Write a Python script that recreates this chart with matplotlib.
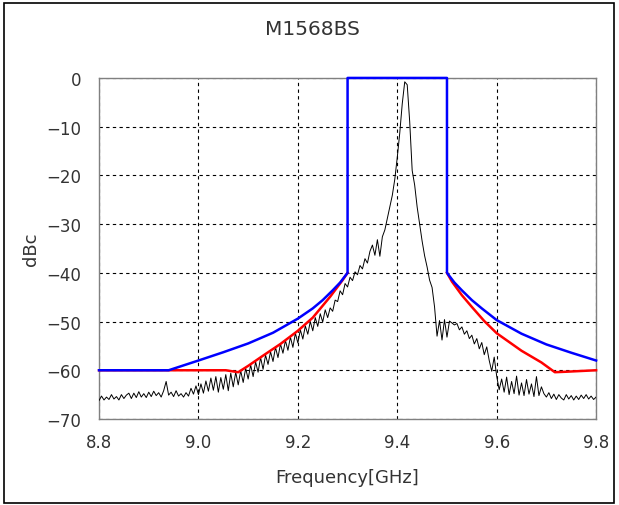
import numpy as np
import matplotlib
matplotlib.use("Agg")
import matplotlib.pyplot as plt
from matplotlib.patches import Rectangle

title = "M1568BS"
x_ticks = [8.8, 9.0, 9.2, 9.4, 9.6, 9.8]
x_tick_labels = ["8.8", "9.0", "9.2", "9.4", "9.6", "9.8"]
y_ticks = [0, -10, -20, -30, -40, -50, -60, -70]

# Blue mask
blue_f = [8.80, 8.94, 8.97, 9.00, 9.05, 9.10, 9.15, 9.20, 9.23, 9.25, 9.27, 9.285, 9.30, 9.30, 9.50, 9.50,
          9.515, 9.53, 9.55, 9.57, 9.60, 9.65, 9.70, 9.75, 9.80]
blue_db = [-60, -60, -59.0, -58.0, -56.3, -54.5, -52.3, -49.4, -47.3, -45.6, -43.6, -42.0, -40.0, 0, 0, -40.0,
           -42.0, -43.6, -45.6, -47.3, -49.7, -52.5, -54.7, -56.4, -58.0]

# Red mask (left and right skirts, no segment across the passband)
red_f = [8.80, 8.94, 9.055, 9.08, 9.10, 9.13, 9.165, 9.20, 9.23, 9.265, 9.29, 9.30,
         np.nan,
         9.50, 9.51, 9.53, 9.55, 9.575, 9.60, 9.65, 9.69, 9.717, 9.74, 9.80]
red_db = [-60, -60, -60, -60.4, -59.1, -57.0, -54.6, -51.9, -49.2, -44.9, -41.5, -40.0,
          np.nan,
          -40.0, -41.8, -44.6, -47.0, -49.9, -52.4, -56.0, -58.4, -60.4, -60.3, -60.0]

# Measured spectrum, 8.8 .. 9.8 GHz in 0.005 GHz steps
spec_db = [
    -66.2, -65.3, -66.1, -65.5, -66.0, -65.0, -65.9, -65.4, -66.1, -65.0,   # 8.800
    -65.8, -65.1, -64.7, -65.8, -64.7, -65.6, -64.4, -65.5, -64.8, -65.6,   # 8.850
    -64.5, -65.4, -64.3, -65.2, -64.6, -65.5, -64.2, -62.3, -65.1, -64.5,   # 8.900
    -65.4, -64.2, -65.3, -64.8, -65.5, -64.6, -65.3, -63.7, -64.9, -63.2,   # 8.950
    -65.0, -62.8, -64.7, -62.2, -64.3, -61.6, -64.1, -61.3, -64.5, -61.5,   # 9.000
    -63.9, -60.9, -64.2, -60.6, -63.4, -60.4, -63.0, -60.1, -62.5, -59.6,   # 9.050
    -61.8, -58.9, -61.3, -58.3, -60.4, -57.4, -59.8, -56.9, -58.8, -56.2,   # 9.100
    -58.2, -55.3, -57.4, -54.6, -56.5, -53.9, -55.9, -53.2, -55.3, -52.4,   # 9.150
    -54.4, -51.7, -53.6, -50.9, -52.6, -50.0, -51.9, -49.2, -51.0, -48.4,   # 9.200
    -50.1, -47.6, -49.2, -47.2, -47.9, -45.6, -45.9, -43.7, -44.5, -42.2,   # 9.250
    -42.9, -40.9, -41.6, -39.8, -40.4, -38.5, -39.2, -37.1, -38.0, -35.6,   # 9.300
    -34.3, -36.4, -33.2, -36.6, -32.6, -31.2, -28.8, -26.3, -24.1, -20.8,   # 9.350
    -16.3, -11.3, -5.3, -0.8, -1.4, -9.0, -19.0, -22.0, -26.5, -30.0,       # 9.400
    -33.5, -36.5, -38.8, -41.5, -43.0, -47.0, -53.0, -49.8, -53.8, -49.6,   # 9.450
    -53.2, -49.9, -50.3, -50.7, -50.4, -51.7, -51.1, -52.6, -51.9, -53.5,   # 9.500
    -52.8, -54.6, -53.5, -55.6, -54.3, -56.8, -55.2, -58.0, -60.2, -57.3,   # 9.550
    -61.2, -64.0, -61.8, -64.5, -61.4, -65.0, -62.3, -64.8, -61.2, -65.1,   # 9.600
    -62.6, -65.2, -61.9, -64.9, -62.8, -65.4, -61.3, -65.2, -63.4, -64.8,   # 9.650
    -65.5, -64.6, -65.8, -64.9, -66.0, -65.0, -65.7, -66.1, -65.0, -65.9,   # 9.700
    -65.2, -66.1, -65.3, -66.0, -65.1, -65.8, -65.0, -65.9, -65.3, -66.0,   # 9.750
    -65.5,                                                                   # 9.800
]
spec_f = np.linspace(8.8, 9.8, len(spec_db))

fig = plt.figure(figsize=(6.19, 5.06), dpi=100)
ax = fig.add_axes([0.160, 0.170, 0.803, 0.674])

ax.plot(spec_f, spec_db, color="black", lw=0.7, zorder=3)
ax.plot(red_f, red_db, color="#ff0000", lw=1.8, zorder=4, clip_on=False)
ax.plot(blue_f, blue_db, color="#0000ff", lw=1.8, zorder=5, clip_on=False)

ax.set_xlim(8.8, 9.8)
ax.set_ylim(-70, 0)
ax.set_xticks(x_ticks)
ax.set_xticklabels(x_tick_labels)
ax.set_yticks(y_ticks)
ax.set_yticklabels([str(v).replace("-", "\u2212") for v in y_ticks])
ax.tick_params(axis="x", length=0, labelsize=12, colors="#333333", pad=10)
ax.tick_params(axis="y", length=0, labelsize=12, colors="#333333", pad=13)
ax.grid(True, color="black", linestyle=(0, (3, 3)), linewidth=0.8)
for s in ax.spines.values():
    s.set_color("#808080")
    s.set_linewidth(1.0)

ax.set_xlabel("Frequency[GHz]", fontsize=13, color="#333333", labelpad=12)
ax.set_ylabel("dBc", fontsize=13, color="#333333", labelpad=4)
fig.text(0.504, 0.941, title, ha="center", va="center", fontsize=14.5, color="#333333")

fig.patches.append(Rectangle((0.007, 0.004), 0.985, 0.988, transform=fig.transFigure,
                             fill=False, edgecolor="black", lw=1.2))

fig.savefig("out.png", dpi=100)
